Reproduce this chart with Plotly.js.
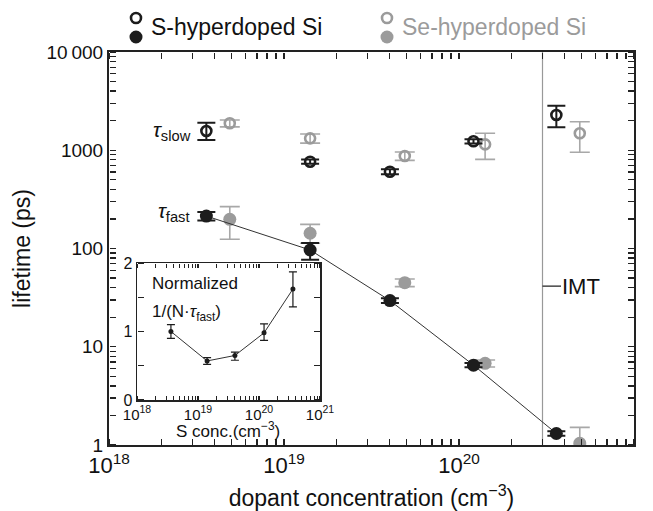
<!DOCTYPE html>
<html><head><meta charset="utf-8">
<script src="https://cdn.plot.ly/plotly-3.0.1.min.js"></script>
<style>html,body{margin:0;padding:0;background:#fff}</style>
</head><body>
<div id="chart" style="width:653px;height:511px"></div>
<script>
// ---- data ----
const sConc = [3.6e18, 1.41e19, 4.03e19, 1.21e20, 3.6e20];
const seConc = [4.9e18, 1.41e19, 4.9e19, 1.41e20, 4.9e20];
const sSlow = [1570, 765, 605, 1234, 2285];
const sSlowErrPlus = [330, 38, 36, 60, 555];
const sSlowErrMinus = [300, 38, 36, 60, 575];
const sFast = [214, 96.6, 29.5, 6.5, 1.31];
const sFastErrPlus = [21, 17, 1.6, 0.33, 0.07];
const sFastErrMinus = [21, 20, 1.6, 0.33, 0.07];
const seSlow = [1880, 1322, 874, 1148, 1487];
const seSlowErrPlus = [150, 140, 85, 340, 466];
const seSlowErrMinus = [150, 140, 85, 340, 534];
const seFast = [198, 143, 44.9, 6.78, 1.04];
const seFastErrPlus = [69, 33, 4, 0.55, 0.47];
const seFastErrMinus = [74, 30, 4, 0.55, 0.3];
const insetConc = [3.6e18, 1.41e19, 4.03e19, 1.21e20, 3.6e20];
const insetNorm = [1.0, 0.57, 0.65, 0.98, 1.62];
const insetErrPlus = [0.1, 0.05, 0.05, 0.13, 0.25];
const insetErrMinus = [0.1, 0.05, 0.07, 0.11, 0.26];
const imtConc = 3e20;
const imtLabelLifetime = 41.5;
const yDecadeLabels = {'1': '1', '10': '10', '100': '100', '1000': '1000', '10000': '10\u2009000'};
const xDecadeLabels = {'18': '10<sup>18</sup>', '19': '10<sup>19</sup>', '20': '10<sup>20</sup>', '21': '10<sup>21</sup>'};
const insetYTickVals = [0, 0.5, 1, 1.5, 2];
const insetYTickText = ['0', '', '1', '', '2'];
const seriesNames = ['S-hyperdoped Si', 'Se-hyperdoped Si'];

// ---- log tick builders (1..9 x 10^n, labels only at decades) ----
function logTicks(e0, e1, labelFor) {
  const vals = [], text = [];
  for (let e = e0; e <= e1; e++) {
    for (let m = 1; m <= 9; m++) {
      if (e === e1 && m > 1) break;
      vals.push(m * Math.pow(10, e));
      text.push(m === 1 ? labelFor(e) : '');
    }
  }
  return {vals, text};
}
const xT = logTicks(18, 21, e => xDecadeLabels[String(e)]);
const yT = logTicks(0, 4, e => yDecadeLabels[String(Math.pow(10, e))]);

// ---- styles ----
const BLACK = '#1c1c1c', GRAY = '#9b9b9b', GRAYERR = '#a8a8a8', AX = '#222';
const FONT = 'Liberation Sans, Arial, sans-serif';

const traces = [
  {x: seConc, y: seSlow, mode: 'markers', xaxis: 'x', yaxis: 'y',
   marker: {symbol: 'circle-open', size: 10, color: GRAY, line: {width: 2.6, color: GRAY}},
   error_y: {type: 'data', symmetric: false, array: seSlowErrPlus, arrayminus: seSlowErrMinus, color: GRAYERR, thickness: 1.6, width: 10}},
  {x: seConc, y: seFast, mode: 'markers', xaxis: 'x', yaxis: 'y',
   marker: {symbol: 'circle', size: 13, color: GRAY},
   error_y: {type: 'data', symmetric: false, array: seFastErrPlus, arrayminus: seFastErrMinus, color: GRAYERR, thickness: 1.6, width: 10}},
  {x: sConc, y: sSlow, mode: 'markers', xaxis: 'x', yaxis: 'y',
   marker: {symbol: 'circle-open', size: 10, color: BLACK, line: {width: 2.6, color: BLACK}},
   error_y: {type: 'data', symmetric: false, array: sSlowErrPlus, arrayminus: sSlowErrMinus, color: BLACK, thickness: 2, width: 9}},
  {x: sConc, y: sFast, mode: 'lines+markers', xaxis: 'x', yaxis: 'y',
   line: {color: '#333', width: 1},
   marker: {symbol: 'circle', size: 13, color: BLACK},
   error_y: {type: 'data', symmetric: false, array: sFastErrPlus, arrayminus: sFastErrMinus, color: BLACK, thickness: 2, width: 9}},
  {x: insetConc, y: insetNorm, mode: 'lines+markers', xaxis: 'x2', yaxis: 'y2',
   line: {color: '#333', width: 1},
   marker: {symbol: 'circle', size: 5, color: BLACK},
   error_y: {type: 'data', symmetric: false, array: insetErrPlus, arrayminus: insetErrMinus, color: BLACK, thickness: 1.2, width: 4}}
];
// empty carrier traces so the tick-only overlay axes get drawn
[['x3', 'y'], ['x4', 'y'], ['x', 'y3'], ['x', 'y4'],
 ['x5', 'y2'], ['x6', 'y2'], ['x2', 'y5'], ['x2', 'y6']].forEach(([xa, ya]) =>
  traces.push({x: [], y: [], xaxis: xa, yaxis: ya, mode: 'markers', hoverinfo: 'skip', showlegend: false}));

// pixel → paper helpers for layout placement
const L = 109, R = 19, T = 52, B = 66, W = 653, H = 511;
const pw = W - L - R, ph = H - T - B;
const px = v => (v - L) / pw, py = v => (H - B - v) / ph;

const frameBase = {showline: true, linecolor: AX, mirror: true, ticks: '', showgrid: false, zeroline: false, fixedrange: true};
// tick-only axes: "outside" ticks on the opposite side give inward-pointing ticks
function tickAxis(over, type, range, vals, side, pos, len, width) {
  return {overlaying: over, type: type, range: range, anchor: 'free', position: pos, side: side,
    tickmode: 'array', tickvals: vals, ticks: 'outside', ticklen: len, tickwidth: width, tickcolor: AX,
    showticklabels: false, showline: false, showgrid: false, zeroline: false, fixedrange: true};
}

function legendGlyphs(cx, color) {
  return [
    {type: 'circle', xref: 'paper', yref: 'paper', xsizemode: 'pixel', ysizemode: 'pixel',
     xanchor: px(cx), yanchor: py(18), x0: -5, x1: 5, y0: -5, y1: 5,
     line: {color: color, width: 2.6}, fillcolor: 'rgba(0,0,0,0)'},
    {type: 'circle', xref: 'paper', yref: 'paper', xsizemode: 'pixel', ysizemode: 'pixel',
     xanchor: px(cx), yanchor: py(37), x0: -6.5, x1: 6.5, y0: -6.5, y1: 6.5,
     line: {color: color, width: 0}, fillcolor: color}
  ];
}

const inX = [px(137), px(320)], inY = [py(400), py(263)];

const layout = {
  width: W, height: H,
  margin: {l: L, r: R, t: T, b: B},
  paper_bgcolor: '#fff', plot_bgcolor: 'rgba(0,0,0,0)',
  showlegend: false,
  font: {family: FONT, color: '#111'},
  xaxis: Object.assign({}, frameBase, {
    type: 'log', range: [18, 21], linewidth: 2,
    tickmode: 'array', tickvals: xT.vals, ticktext: xT.text,
    tickfont: {size: 22, family: FONT, color: '#111'},
    title: {text: 'dopant concentration (cm<sup>\u22123</sup>)', font: {size: 23, family: FONT, color: '#111'}, standoff: 16}
  }),
  yaxis: Object.assign({}, frameBase, {
    type: 'log', range: [0, 4], linewidth: 2,
    tickmode: 'array', tickvals: yT.vals, ticktext: yT.text,
    tickfont: {size: 19, family: FONT, color: '#111'},
    title: {text: 'lifetime (ps)', font: {size: 23, family: FONT, color: '#111'}, standoff: 10}
  }),
  xaxis3: tickAxis('x', 'log', [18, 21], xT.vals, 'top', 0, 6, 1.3),
  xaxis4: tickAxis('x', 'log', [18, 21], xT.vals, 'bottom', 1, 6, 1.3),
  yaxis3: tickAxis('y', 'log', [0, 4], yT.vals, 'right', 0, 6, 1.3),
  yaxis4: tickAxis('y', 'log', [0, 4], yT.vals, 'left', 1, 6, 1.3),
  xaxis2: Object.assign({}, frameBase, {
    anchor: 'y2', domain: inX,
    type: 'log', range: [18, 21], linewidth: 1.5,
    tickmode: 'array', tickvals: xT.vals, ticktext: xT.text,
    tickfont: {size: 15, family: FONT, color: '#111'}
  }),
  yaxis2: Object.assign({}, frameBase, {
    anchor: 'x2', domain: inY,
    range: [0, 2], linewidth: 1.5,
    tickmode: 'array', tickvals: insetYTickVals, ticktext: insetYTickText,
    tickfont: {size: 16, family: FONT, color: '#111'}
  }),
  xaxis5: tickAxis('x2', 'log', [18, 21], xT.vals, 'top', inY[0], 4, 1.1),
  xaxis6: tickAxis('x2', 'log', [18, 21], xT.vals, 'bottom', inY[1], 4, 1.1),
  yaxis5: tickAxis('y2', 'linear', [0, 2], insetYTickVals, 'right', inX[0], 6, 1.1),
  yaxis6: tickAxis('y2', 'linear', [0, 2], insetYTickVals, 'left', inX[1], 6, 1.1),
  shapes: [
    {type: 'line', xref: 'x', yref: 'paper', x0: imtConc, x1: imtConc, y0: 0, y1: 1,
     line: {color: '#999', width: 1.2}, layer: 'below'},
    ...legendGlyphs(136, BLACK),
    ...legendGlyphs(387, GRAY)
  ],
  annotations: [
    {xref: 'paper', yref: 'paper', x: px(149), y: py(27), xanchor: 'left', yanchor: 'middle',
     text: seriesNames[0], showarrow: false, font: {size: 23, family: FONT, color: '#111'}},
    {xref: 'paper', yref: 'paper', x: px(400), y: py(27), xanchor: 'left', yanchor: 'middle',
     text: seriesNames[1], showarrow: false, font: {size: 23, family: FONT, color: GRAY}},
    {xref: 'x', yref: 'y', x: Math.log10(sConc[0]), y: Math.log10(sSlow[0]), xanchor: 'right', yanchor: 'middle',
     xshift: -13, text: '<i>\u03c4</i><sub>slow</sub>', showarrow: false, font: {size: 21, family: FONT, color: '#111'}},
    {xref: 'x', yref: 'y', x: Math.log10(sConc[0]), y: Math.log10(sFast[0]), xanchor: 'right', yanchor: 'middle',
     xshift: -14, yshift: 4, text: '<i>\u03c4</i><sub>fast</sub>', showarrow: false, font: {size: 21, family: FONT, color: '#111'}},
    {xref: 'x', yref: 'y', x: Math.log10(imtConc), y: Math.log10(imtLabelLifetime),
     text: 'IMT', showarrow: true, arrowhead: 0, arrowwidth: 1.2, arrowcolor: '#222', ax: 38, ay: 0,
     font: {size: 22, family: FONT, color: '#111'}, borderpad: 0},
    {xref: 'paper', yref: 'paper', x: px(150), y: py(283), xanchor: 'left', yanchor: 'middle',
     text: 'Normalized', showarrow: false, font: {size: 17, family: FONT, color: '#111'}},
    {xref: 'paper', yref: 'paper', x: px(150), y: py(313), xanchor: 'left', yanchor: 'middle',
     text: '1/(N\u00b7<i>\u03c4</i><sub>fast</sub>)', showarrow: false, font: {size: 17, family: FONT, color: '#111'}},
    {xref: 'paper', yref: 'paper', x: px(228), y: py(430), xanchor: 'center', yanchor: 'middle',
     text: 'S conc.(cm<sup>\u22123</sup>)', showarrow: false, font: {size: 17, family: FONT, color: '#111'}}
  ]
};

Plotly.newPlot('chart', traces, layout, {displayModeBar: false, staticPlot: true});
</script>
</body></html>
